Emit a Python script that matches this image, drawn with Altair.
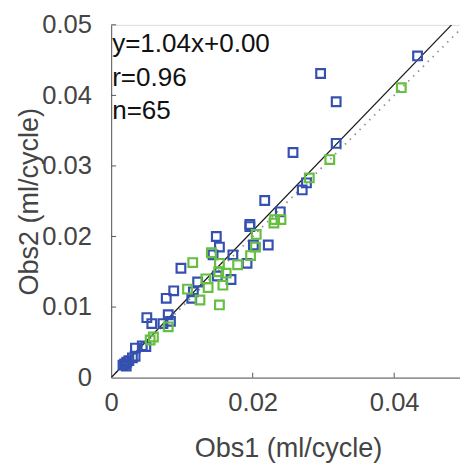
import altair as alt
import pandas as pd

# ---- data ----
blue_x = [0.0296, 0.0318, 0.0433, 0.0257, 0.0318, 0.0276, 0.0270, 0.0217, 0.0239, 0.0196,
          0.0196, 0.01486, 0.0153, 0.0201, 0.0222, 0.0144, 0.0172, 0.00986, 0.0192, 0.0150,
          0.01694, 0.01222, 0.01162, 0.01139, 0.00884, 0.00778, 0.00504, 0.00574, 0.00732, 0.00806,
          0.00838, 0.0049, 0.00343, 0.00338, 0.0025, 0.0019, 0.00213, 0.00167, 0.0044, 0.0030,
          0.0022]
blue_y = [0.0431, 0.0391, 0.0456, 0.0319, 0.0332, 0.0276, 0.0266, 0.0251, 0.0235, 0.0217,
          0.0214, 0.0200, 0.0185, 0.0188, 0.0188, 0.0174, 0.0174, 0.0155, 0.0162, 0.0144,
          0.0139, 0.01355, 0.01216, 0.01124, 0.0123, 0.01124, 0.0085, 0.00766, 0.00766, 0.00891,
          0.00798, 0.00441, 0.00418, 0.00302, 0.00241, 0.00195, 0.00163, 0.00177, 0.0045, 0.0028,
          0.0022]
green_x = [0.0410, 0.0309, 0.0280, 0.0231, 0.0240, 0.0230, 0.0205, 0.0204, 0.01417, 0.0197,
           0.01153, 0.0153, 0.01787, 0.01625, 0.0152, 0.01579, 0.01338, 0.01370, 0.01079, 0.01255,
           0.0153, 0.00806, 0.00597, 0.00551]
green_y = [0.0411, 0.0309, 0.0283, 0.0224, 0.0224, 0.0219, 0.0203, 0.0185, 0.0177, 0.0173,
           0.0163, 0.0162, 0.0160, 0.0148, 0.0150, 0.0131, 0.0140, 0.01277, 0.01254, 0.0110,
           0.0103, 0.0072, 0.00575, 0.00533]

fit_x = [0.0, 0.0481]
fit_y = [0.0, 0.05]
one_x = [0.0, 0.0493]
one_y = [0.0, 0.0493]

x_ticks = [0.02, 0.04]
y_ticks = [0.01, 0.02, 0.03, 0.04, 0.05]
x_labels = [0, 0.02, 0.04]
y_labels = [0, 0.01, 0.02, 0.03, 0.04, 0.05]

notes = ["y=1.04x+0.00", "r=0.96", "n=65"]
note_x = [0.0, 0.0, 0.0]
note_y = [0.0461, 0.04136, 0.03663]

X_DOMAIN = [0, 0.0493]
Y_DOMAIN = [0, 0.05]
FONT = "Liberation Sans"

pts = pd.concat([
    pd.DataFrame({"x": blue_x, "y": blue_y, "g": "Obs A"}),
    pd.DataFrame({"x": green_x, "y": green_y, "g": "Obs B"}),
])
fit_df = pd.DataFrame({"x": fit_x, "y": fit_y})
one_df = pd.DataFrame({"x": one_x, "y": one_y})
xt_df = pd.DataFrame({"v": x_ticks})
yt_df = pd.DataFrame({"v": y_ticks})
note_df = pd.DataFrame({"t": notes, "x": note_x, "y": note_y})

xs = alt.Scale(domain=X_DOMAIN, nice=False, zero=True)
ys = alt.Scale(domain=Y_DOMAIN, nice=False, zero=True)

x_axis = alt.Axis(values=x_labels, format=".2~f", grid=False, tickSize=0,
                  domainColor="#555555", domainWidth=1, labelColor="#444444",
                  labelFontSize=26, labelFont=FONT, labelPadding=12, labelFlush=False,
                  title="Obs1 (ml/cycle)", titleFont=FONT, titleFontSize=27.5,
                  titleFontWeight="normal", titleColor="#444444",
                  titleX=180, titleY=80, titleBaseline="alphabetic", titleAlign="center")
y_axis = alt.Axis(values=y_labels, format=".2~f", grid=False, tickSize=0,
                  domainColor="#555555", domainWidth=1, labelColor="#444444",
                  labelFontSize=26, labelFont=FONT, labelPadding=20, labelFlush=False,
                  title="Obs2 (ml/cycle)", titleFont=FONT, titleFontSize=27.5,
                  titleFontWeight="normal", titleColor="#444444",
                  titleX=-83, titleY=179.5, titleAngle=270, titleBaseline="middle",
                  titleAlign="center")

one_line = alt.Chart(one_df).mark_line(color="#909090", strokeWidth=1.8,
                                       strokeDash=[1.5, 5.5], clip=True).encode(
    x=alt.X("x:Q", scale=xs, axis=x_axis),
    y=alt.Y("y:Q", scale=ys, axis=y_axis),
)
fit_line = alt.Chart(fit_df).mark_line(color="#1a1a1a", strokeWidth=1.3, clip=True).encode(
    x=alt.X("x:Q", scale=xs), y=alt.Y("y:Q", scale=ys)
)
points = alt.Chart(pts).mark_point(shape="square", filled=False, size=78, strokeWidth=2.2,
                                   opacity=1).encode(
    x=alt.X("x:Q", scale=xs), y=alt.Y("y:Q", scale=ys),
    color=alt.Color("g:N", scale=alt.Scale(domain=["Obs A", "Obs B"],
                                           range=["#3450b0", "#66bf40"]), legend=None),
)
y_tick_marks = alt.Chart(yt_df).mark_rule(color="#555555", strokeWidth=1).encode(
    y=alt.Y("v:Q", scale=ys), x=alt.value(0), x2=alt.value(5)
)
x_tick_marks = alt.Chart(xt_df).mark_rule(color="#555555", strokeWidth=1).encode(
    x=alt.X("v:Q", scale=xs), y=alt.value(359), y2=alt.value(354)
)
note_text = alt.Chart(note_df).mark_text(align="left", baseline="alphabetic", fontSize=26.5,
                                         font=FONT, color="#111111", dx=1).encode(
    x=alt.X("x:Q", scale=xs), y=alt.Y("y:Q", scale=ys), text="t:N"
)

chart = alt.layer(one_line, fit_line, points, y_tick_marks, x_tick_marks, note_text).properties(
    width=355, height=359,
    autosize=alt.AutoSizeParams(type="none"),
    padding={"left": 105, "top": 13, "right": 0, "bottom": 96},
).configure_view(stroke=None).configure(background="white")

chart.save("out.html", embed_options={"renderer": "svg", "actions": False})
